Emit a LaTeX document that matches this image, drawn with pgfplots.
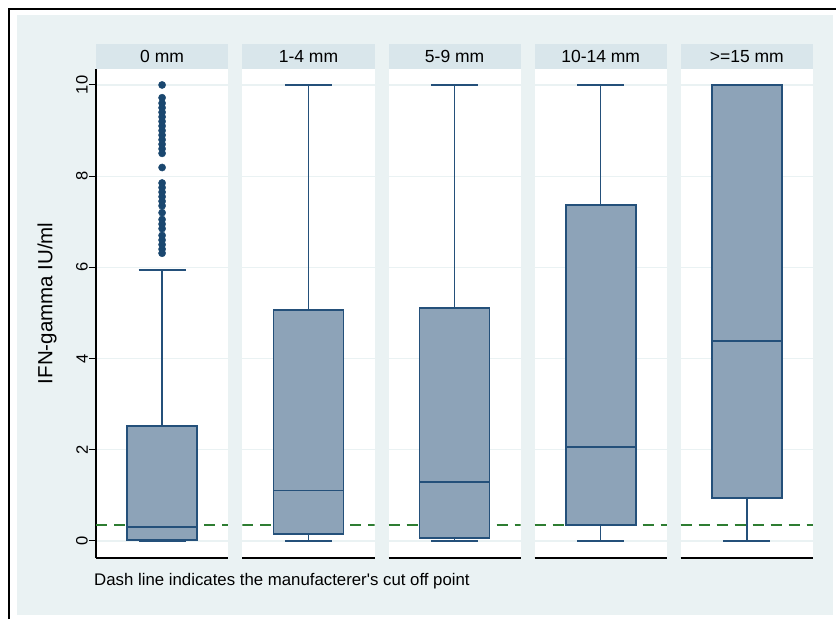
\documentclass[border=0pt]{standalone}
\usepackage{fontspec}
\setmainfont{Liberation Sans}
\usepackage{pgfplots}
\pgfplotsset{compat=1.18}
\usepgfplotslibrary{statistics}
\definecolor{bgc}{HTML}{EAF2F3}
\definecolor{hdr}{HTML}{D9E6EB}
\definecolor{navy}{HTML}{1A476F}
\definecolor{boxe}{HTML}{24507A}
\definecolor{boxf}{HTML}{8DA3B8}
\definecolor{cutg}{HTML}{2E7D32}
\pgfplotsset{
  panel/.style={
    anchor=south west, width=132.2pt, height=489pt, scale only axis,
    xmin=0, xmax=1, ymin=-0.373, ymax=10.35,
    xtick=\empty, ytick={0,2,4,6,8,10},
    ymajorgrids, grid style={color=bgc, line width=1.2pt},
    axis lines*=left, axis line style={-, black, line width=1.1pt},
    axis background/.style={fill=white},
    /pgf/number format/assume math mode=true,
    tick align=outside, major tick length=7pt,
    tick style={black, line width=1pt},
    yticklabel style={rotate=90, anchor=south, inner sep=1pt, font=\fontsize{16.5}{16.5}\selectfont},
    boxplot/draw direction=y,
  },
  noy/.style={y axis line style={draw=none}, yticklabels={}, ytick style={draw=none}},
  bx/.style={draw=boxe, line width=1.4pt,
    boxplot prepared={#1, draw position=0.5, box extend=0.53, whisker extend=0.356},
    boxplot/every box/.style={draw=boxe, fill=boxf, line width=1.7pt},
    boxplot/every whisker/.style={draw=boxe, line width=1.4pt},
    boxplot/every median/.style={draw=boxe, line width=1.5pt}},
  cut/.style={cutg, line width=1.1pt, dash pattern=on 11pt off 7pt},
}
\begin{document}
\begin{tikzpicture}[x=1pt,y=1pt]
\path[use as bounding box] (0,0) rectangle (836,619);
\fill[bgc] (17,4) rectangle (833,604);
\draw[black, line width=1.5pt] (9,0) -- (9,610) -- (836,610);
% headers
\foreach \px/\lab in {96/{0 mm}, 242.4/{1-4 mm}, 388.5/{5-9 mm}, 534.6/{10-14 mm}, 680.7/{>=15 mm}}{
  \fill[hdr] (\px,550) rectangle ++(132.2,25);
  \node[anchor=base, font=\fontsize{17.5}{17.5}\selectfont, inner sep=0pt] at (\px+66.1,556.7) {\lab};
}
% panel 1
\begin{axis}[panel, at={(96pt,61pt)}]
\addplot[cut] coordinates {(0,0.35) (1,0.35)};
\addplot[bx={lower whisker=0, lower quartile=0.02, median=0.31, upper quartile=2.52, upper whisker=5.94}] coordinates {};
\addplot[only marks, mark=*, mark size=3.6pt, mark options={draw=navy, fill=navy}] coordinates {
(0.5,10.0) (0.5,9.72) (0.5,9.6) (0.5,9.5) (0.5,9.4) (0.5,9.3) (0.5,9.2) (0.5,9.1) (0.5,9.0)
(0.5,8.9) (0.5,8.8) (0.5,8.7) (0.5,8.6) (0.5,8.5) (0.5,8.19)
(0.5,7.85) (0.5,7.75) (0.5,7.65) (0.5,7.55) (0.5,7.45) (0.5,7.35) (0.5,7.2) (0.5,7.05)
(0.5,6.95) (0.5,6.85) (0.5,6.7) (0.5,6.6) (0.5,6.5) (0.5,6.4) (0.5,6.31)};
\end{axis}
% panel 2
\begin{axis}[panel, noy, at={(242.4pt,61pt)}]
\addplot[cut] coordinates {(0,0.35) (1,0.35)};
\addplot[bx={lower whisker=0, lower quartile=0.15, median=1.11, upper quartile=5.07, upper whisker=10}] coordinates {};
\end{axis}
% panel 3
\begin{axis}[panel, noy, at={(388.5pt,61pt)}]
\addplot[cut] coordinates {(0,0.35) (1,0.35)};
\addplot[bx={lower whisker=0, lower quartile=0.07, median=1.29, upper quartile=5.11, upper whisker=10}] coordinates {};
\end{axis}
% panel 4
\begin{axis}[panel, noy, at={(534.6pt,61pt)}]
\addplot[cut] coordinates {(0,0.35) (1,0.35)};
\addplot[bx={lower whisker=0, lower quartile=0.35, median=2.06, upper quartile=7.37, upper whisker=10}] coordinates {};
\end{axis}
% panel 5
\begin{axis}[panel, noy, at={(680.7pt,61pt)}]
\addplot[cut] coordinates {(0,0.35) (1,0.35)};
\addplot[bx={lower whisker=0, lower quartile=0.94, median=4.39, upper quartile=10, upper whisker=10}] coordinates {};
\end{axis}
\node[rotate=90, font=\fontsize{20.5}{20.5}\selectfont, inner sep=0pt] at (47,315.7) {IFN-gamma IU/ml};
\node[anchor=base west, font=\fontsize{16.8}{16.8}\selectfont, inner sep=0pt] at (94,34) {Dash line indicates the manufacterer\textquotesingle s cut off point};
\end{tikzpicture}
\end{document}
